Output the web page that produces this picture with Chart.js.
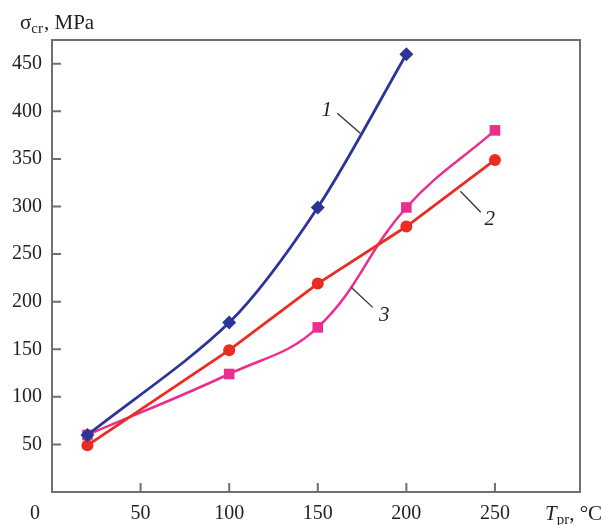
<!DOCTYPE html>
<html lang="en">
<head>
    <meta charset="UTF-8">
    <title>Critical stress vs temperature</title>
    <script src="https://cdn.jsdelivr.net/npm/chart.js"></script>
    <style>
        body { margin: 0; background: #fff; }
        canvas { display: block; }
    </style>
</head>
<body>
    <canvas id="chart" width="605" height="525"></canvas>

    <script>
        // values
        const tempX = [20, 100, 150, 200, 250];
        const curve1 = [60, 178, 299, 460];
        const curve2 = [49, 149, 219, 279, 349];
        const curve3 = [60, 124, 173, 299, 380];
        const xTicks = [50, 100, 150, 200, 250];
        const yTicks = [50, 100, 150, 200, 250, 300, 350, 400, 450];

        const serif = 'Liberation Serif';
        const pts = vals => vals.map((v, i) => ({ x: tempX[i], y: v }));

        // frame with inward ticks, curve numbers, axis titles
        const decor = {
            id: 'decor',
            beforeDatasetsDraw(chart) {
                const { ctx, chartArea: a, scales: { x, y } } = chart;
                ctx.save();
                ctx.strokeStyle = '#707070';
                ctx.lineWidth = 2;
                ctx.strokeRect(a.left, a.top, a.right - a.left, a.bottom - a.top);
                ctx.beginPath();
                xTicks.forEach(v => {
                    const px = x.getPixelForValue(v);
                    ctx.moveTo(px, a.bottom);
                    ctx.lineTo(px, a.bottom - 9);
                });
                yTicks.forEach(v => {
                    const py = y.getPixelForValue(v);
                    ctx.moveTo(a.left, py);
                    ctx.lineTo(a.left + 9, py);
                });
                ctx.stroke();
                ctx.restore();
            },
            afterDatasetsDraw(chart) {
                const { ctx, chartArea: a, scales: { x, y } } = chart;
                ctx.save();
                // leader lines
                ctx.strokeStyle = '#333';
                ctx.lineWidth = 1.3;
                const leaders = [[161, 398, 174, 377], [242, 294, 230.5, 316], [181, 194, 169, 215]];
                ctx.beginPath();
                leaders.forEach(l => {
                    ctx.moveTo(x.getPixelForValue(l[0]), y.getPixelForValue(l[1]));
                    ctx.lineTo(x.getPixelForValue(l[2]), y.getPixelForValue(l[3]));
                });
                ctx.stroke();
                ctx.fillStyle = '#222';
                ctx.font = 'italic 21px ' + serif;
                ctx.textAlign = 'center';
                ctx.textBaseline = 'middle';
                ctx.fillText('1', x.getPixelForValue(155), y.getPixelForValue(401));
                ctx.fillText('2', x.getPixelForValue(247), y.getPixelForValue(286));
                ctx.fillText('3', x.getPixelForValue(187.5), y.getPixelForValue(186));

                // origin label
                ctx.font = '20px ' + serif;
                ctx.fillText('0', a.left - 17, 514);

                // y title
                ctx.textAlign = 'left';
                ctx.textBaseline = 'alphabetic';
                let cx = 20;
                ctx.font = '21px ' + serif;
                ctx.fillText('σ', cx, 29);
                cx += ctx.measureText('σ').width;
                ctx.font = '15px ' + serif;
                ctx.fillText('cr', cx, 33);
                cx += ctx.measureText('cr').width + 1;
                ctx.font = '21px ' + serif;
                ctx.fillText(', MPa', cx, 29);

                // x title
                cx = 545;
                ctx.font = 'italic 21px ' + serif;
                ctx.fillText('T', cx, 520);
                cx += ctx.measureText('T').width;
                ctx.font = '15px ' + serif;
                ctx.fillText('pr', cx, 524);
                cx += ctx.measureText('pr').width;
                ctx.font = '21px ' + serif;
                ctx.fillText(', °C', cx, 520);
                ctx.restore();
            }
        };

        new Chart(document.getElementById('chart'), {
            type: 'line',
            data: {
                datasets: [{
                    label: '1',
                    data: pts(curve1),
                    borderColor: '#2c3595',
                    backgroundColor: '#2c3595',
                    borderWidth: 2.8,
                    tension: 0.3,
                    pointStyle: 'rectRot',
                    pointRadius: 7,
                    pointBorderWidth: 0
                }, {
                    label: '2',
                    data: pts(curve2),
                    borderColor: '#ec2b22',
                    backgroundColor: '#ec2b22',
                    borderWidth: 2.8,
                    tension: 0,
                    pointStyle: 'circle',
                    pointRadius: 6,
                    pointBorderWidth: 0
                }, {
                    label: '3',
                    data: pts(curve3),
                    borderColor: '#ea2e8e',
                    backgroundColor: '#ea2e8e',
                    borderWidth: 2.5,
                    tension: 0.4,
                    pointStyle: 'rect',
                    pointRadius: 7.5,
                    pointBorderWidth: 0
                }]
            },
            options: {
                responsive: false,
                animation: false,
                layout: { padding: { top: 40, right: 25, left: 0, bottom: 0 } },
                plugins: { legend: { display: false }, tooltip: { enabled: false } },
                scales: {
                    x: {
                        type: 'linear',
                        min: 0,
                        max: 298,
                        grid: { display: false, drawTicks: false },
                        border: { display: false },
                        afterFit: s => { s.height = 33; },
                        afterBuildTicks: s => { s.ticks = xTicks.map(v => ({ value: v })); },
                        ticks: { font: { family: serif, size: 20 }, color: '#222', padding: 10, maxRotation: 0 }
                    },
                    y: {
                        min: 0,
                        max: 475,
                        grid: { display: false, drawTicks: false },
                        border: { display: false },
                        afterFit: s => { s.width = 52; },
                        afterBuildTicks: s => { s.ticks = yTicks.map(v => ({ value: v })); },
                        ticks: { font: { family: serif, size: 20 }, color: '#222', padding: 10 }
                    }
                }
            },
            plugins: [decor]
        });
    </script>
</body>
</html>
